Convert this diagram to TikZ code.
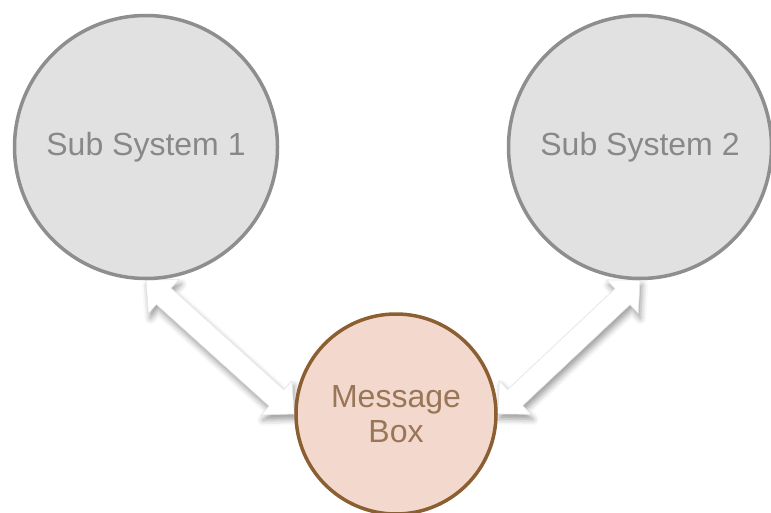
\documentclass[tikz,border=0pt]{standalone}
\usepackage{fontspec}
\setmainfont{Liberation Sans}
\usetikzlibrary{calc,shadows.blur}

\definecolor{subfill}{HTML}{E1E1E1}
\definecolor{subline}{HTML}{8E8E8E}
\definecolor{subtext}{HTML}{888888}
\definecolor{msgfill}{HTML}{F3D9CD}
\definecolor{msgline}{HTML}{8C5F33}
\definecolor{msgtext}{HTML}{9A7658}

\tikzset{
  subsys/.style={circle, fill=subfill, draw=subline, line width=3.5pt,
    minimum size=263pt, inner sep=0pt, text=subtext,
    font=\fontsize{32}{35}\selectfont},
  msgbox/.style={circle, fill=msgfill, draw=msgline, line width=3.5pt,
    minimum size=200pt, inner sep=0pt, text=msgtext, align=center,
    font=\fontsize{32}{35}\selectfont},
  blockarrow/.style={fill=white, draw=black!10, line width=0.6pt,
    blur shadow={shadow xshift=2pt, shadow yshift=-5pt,
      shadow blur radius=6pt, shadow opacity=40}},
}

% double-headed block arrow between two points
\newcommand{\twowayarrow}[2]{%
  \path[blockarrow]
    (#1) -- ($($(#1)!24pt!(#2)$)!23pt!90:(#2)$)
         -- ($($(#1)!24pt!(#2)$)!11pt!90:(#2)$)
         -- ($($(#2)!24pt!(#1)$)!11pt!-90:(#1)$)
         -- ($($(#2)!24pt!(#1)$)!23pt!-90:(#1)$)
         -- (#2)
         -- ($($(#2)!24pt!(#1)$)!23pt!90:(#1)$)
         -- ($($(#2)!24pt!(#1)$)!11pt!90:(#1)$)
         -- ($($(#1)!24pt!(#2)$)!11pt!-90:(#2)$)
         -- ($($(#1)!24pt!(#2)$)!23pt!-90:(#2)$)
         -- cycle;}

\begin{document}
\begin{tikzpicture}[x=1pt, y=-1pt]
  \useasboundingbox (0,0) rectangle (771,513);

  % node positions (drawn later, on top of the arrows)
  \path (146,147) node[subsys, opacity=0] (s1p) {}
        (640,147) node[subsys, opacity=0] (s2p) {}
        (396,414) node[msgbox, opacity=0] (mbp) {};

  % connectors between the subsystems and the message box
  \twowayarrow{s1p.south}{mbp.west}
  \twowayarrow{s2p.south}{mbp.east}

  % the three circles
  \node[subsys] (s1) at (s1p) {Sub System 1};
  \node[subsys] (s2) at (s2p) {Sub System 2};
  \node[msgbox] (mb) at (mbp) {Message\\Box};
\end{tikzpicture}
\end{document}
